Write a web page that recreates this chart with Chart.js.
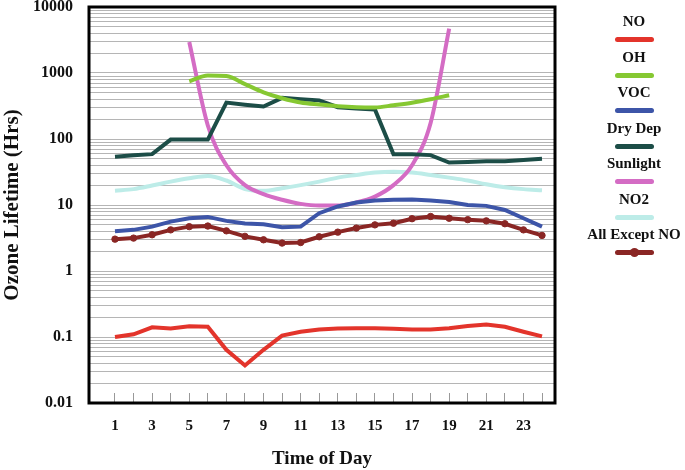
<!DOCTYPE html>
<html>
<head>
<meta charset="utf-8">
<script src="https://cdn.jsdelivr.net/npm/chart.js@4"></script>
<style>
  body { margin: 0; background: #fff; }
  #wrap { position: relative; width: 685px; height: 470px; }
  #grafico { position: absolute; left: 0; top: 0; }
  #legenda { position: absolute; left: 570px; top: 0; width: 128px; }
  .item { position: absolute; left: 0; width: 128px; text-align: center;
          font: bold 15px "Liberation Serif", serif; color: #111; }
  .amostra { position: relative; width: 39px; height: 5px; border-radius: 2.5px; margin: 7px auto 0; }
  .ponto { position: absolute; left: 15px; top: -2px; width: 9px; height: 9px; border-radius: 50%; }
</style>
</head>
<body>
<div id="wrap">
  <canvas id="grafico" width="685" height="470"></canvas>
  <div id="legenda"></div>
</div>
<script>
// Dados (horas 1..24)
const horas = [1, 2, 3, 4, 5, 6, 7, 8, 9, 10, 11, 12, 13, 14, 15, 16, 17, 18, 19, 20, 21, 22, 23, 24];

const no = [0.100, 0.110, 0.140, 0.135, 0.145, 0.143, 0.064, 0.037, 0.064, 0.105, 0.120, 0.130,
            0.135, 0.136, 0.136, 0.133, 0.130, 0.130, 0.136, 0.147, 0.155, 0.143, 0.120, 0.102];
const oh = [null, null, null, null, 750, 920, 900, 680, 510, 415, 357, 333,
            314, 303, 300, 325, 355, 400, 460, null, null, null, null, null];
const voc = [4.0, 4.2, 4.7, 5.6, 6.3, 6.6, 5.75, 5.25, 5.1, 4.6, 4.7, 7.5,
             9.5, 10.9, 11.7, 12.0, 12.1, 11.7, 11.1, 10.0, 9.7, 8.4, 6.3, 4.7];
const dryDep = [54, 56.5, 59, 98, 98, 98, 356, 330, 310, 420, 400, 385,
                303, 290, 280, 58.5, 58.5, 57, 44, 45, 46, 46, 48, 50];
const sunlight = [null, null, null, null, 2950, 160, 40, 20, 14.6, 12, 10.4, 9.8,
                  9.8, 10.9, 13.4, 20, 40, 175, 4700, null, null, null, null, null];
const no2 = [16.5, 17.4, 19.7, 22.6, 25.4, 27.5, 23.5, 17.5, 16.4, 18, 20, 22.6,
             26, 28.5, 31, 32, 31, 28.5, 26, 23.5, 20.6, 18.6, 17.4, 16.7];
const allExceptNo = [3.04, 3.15, 3.54, 4.2, 4.7, 4.8, 4.06, 3.35, 2.97, 2.65, 2.7, 3.3,
                     3.88, 4.47, 5.0, 5.3, 6.2, 6.7, 6.3, 6.0, 5.75, 5.2, 4.2, 3.46];

const rotulosX = ['1', '3', '5', '7', '9', '11', '13', '15', '17', '19', '21', '23'];
const rotulosY = ['0.01', '0.1', '1', '10', '100', '1000', '10000'];

const serif = '"Liberation Serif", "Times New Roman", serif';

function pontos(vals) {
    return horas.map((h, i) => ({ x: h, y: vals[i] }));
}

function serie(label, vals, cor, suave, comPontos) {
    return {
        label: label,
        data: pontos(vals),
        borderColor: cor,
        backgroundColor: cor,
        borderWidth: 4,
        pointRadius: comPontos ? 3.2 : 0,
        pointBorderWidth: 1,
        pointHoverRadius: 0,
        tension: suave ? 0.4 : 0,
        cubicInterpolationMode: suave ? 'monotone' : 'default',
        spanGaps: false
    };
}

const datasets = [
    serie('NO', no, '#e3342b', false, false),
    serie('OH', oh, '#86c832', true, false),
    serie('VOC', voc, '#3d55a8', false, false),
    serie('Dry Dep', dryDep, '#1c4d47', false, false),
    serie('Sunlight', sunlight, '#d46cc4', true, false),
    serie('NO2', no2, '#bdece8', true, false),
    serie('All Except NO', allExceptNo, '#8a2624', false, true)
];

// moldura preta em volta da área do gráfico
const moldura = {
    id: 'moldura',
    afterDraw(chart) {
        const a = chart.chartArea;
        const c = chart.ctx;
        c.save();
        c.strokeStyle = '#000';
        c.lineWidth = 3;
        c.strokeRect(a.left, a.top, a.right - a.left, a.bottom - a.top);
        c.restore();
    }
};

const ctx = document.getElementById('grafico').getContext('2d');

new Chart(ctx, {
    type: 'line',
    data: { datasets: datasets },
    plugins: [moldura],
    options: {
        responsive: false,
        animation: false,
        layout: { padding: { left: 0, right: 130, top: 7, bottom: 0 } },
        plugins: {
            legend: { display: false },
            tooltip: { enabled: false }
        },
        scales: {
            x: {
                type: 'linear',
                min: -0.4,
                max: 24.7,
                afterBuildTicks: (s) => { s.ticks = horas.map(h => ({ value: h })); },
                afterFit: (s) => { s.height = 67; s.paddingLeft = 0; s.paddingRight = 0; },
                border: { display: false },
                grid: { drawOnChartArea: false, tickLength: -10, color: '#999', lineWidth: 1 },
                ticks: {
                    autoSkip: false,
                    maxRotation: 0,
                    padding: 24,
                    color: '#111',
                    font: { family: serif, size: 15, weight: 'bold' },
                    callback: (v) => rotulosX.includes(String(v)) ? String(v) : ''
                },
                title: {
                    display: true,
                    text: 'Time of Day',
                    color: '#111',
                    font: { family: serif, size: 19, weight: 'bold' },
                    padding: { top: 4, bottom: 0 }
                }
            },
            y: {
                type: 'logarithmic',
                min: 0.01,
                max: 10000,
                afterBuildTicks: (s) => {
                    const t = [];
                    rotulosY.forEach((r, i) => {
                        const dec = Number(r);
                        const lim = i === rotulosY.length - 1 ? 1 : 9;
                        for (let k = 1; k <= lim; k++) t.push({ value: +(dec * k).toPrecision(3) });
                    });
                    s.ticks = t;
                },
                afterFit: (s) => { s.width = 89; s.paddingTop = 0; s.paddingBottom = 0; },
                border: { display: false },
                grid: { drawTicks: false, color: '#b5b5b5', lineWidth: 1 },
                ticks: {
                    autoSkip: false,
                    padding: 16,
                    color: '#111',
                    font: { family: serif, size: 16, weight: 'bold' },
                    callback: (v) => {
                        const r = rotulosY.find(l => Number(l) === v);
                        return r === undefined ? '' : r;
                    }
                },
                title: {
                    display: true,
                    text: 'Ozone Lifetime (Hrs)',
                    color: '#111',
                    font: { family: serif, size: 21, weight: 'bold' },
                    padding: { top: 0, bottom: 0 }
                }
            }
        }
    }
});

// legenda à direita: texto em cima, amostra da linha embaixo
const leg = document.getElementById('legenda');
datasets.forEach((d, i) => {
    const item = document.createElement('div');
    item.className = 'item';
    item.style.top = (13 + i * 35.5) + 'px';
    item.innerHTML = '<div>' + d.label + '</div>';
    const am = document.createElement('div');
    am.className = 'amostra';
    am.style.background = d.borderColor;
    if (d.pointRadius > 0) {
        const p = document.createElement('div');
        p.className = 'ponto';
        p.style.background = d.borderColor;
        am.appendChild(p);
    }
    item.appendChild(am);
    leg.appendChild(item);
});
</script>
</body>
</html>
